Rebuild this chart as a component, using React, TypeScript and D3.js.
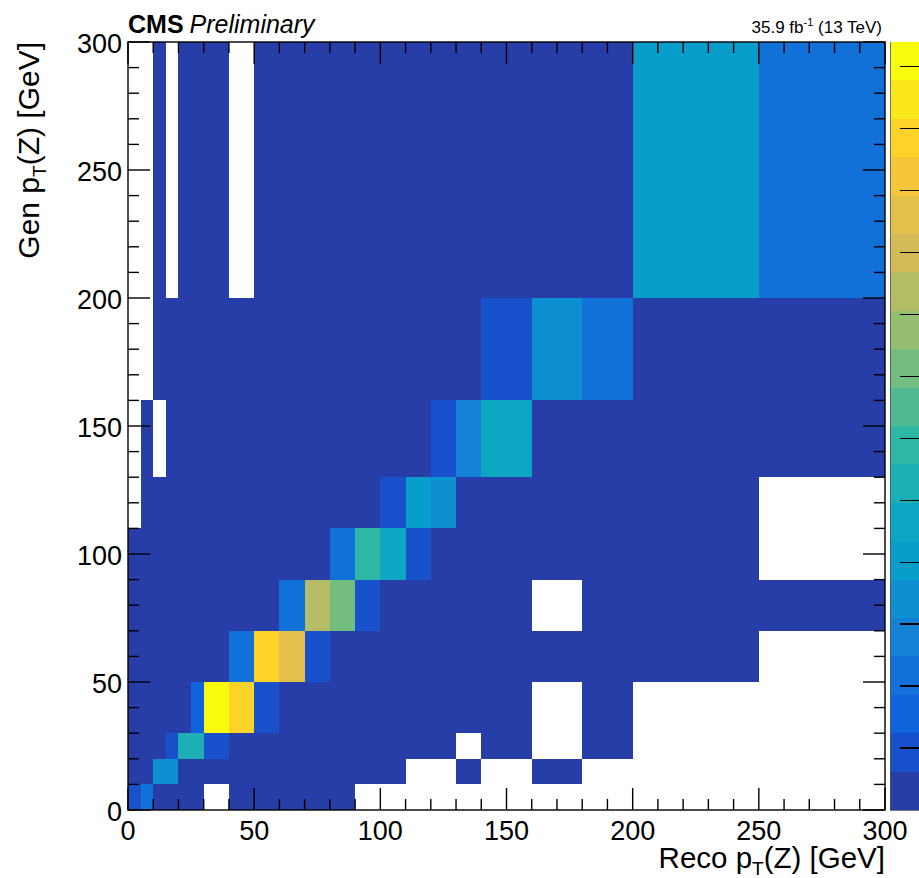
import React from 'react';
import * as d3 from 'd3';

// 2D response matrix (Reco vs Gen pT of the Z), ROOT kBird palette, 20 contours.

const W = 919;
const H = 878;
const PLOT = { left: 128, right: 885, top: 42, bottom: 810 };
const BAR = { left: 890, right: 940 };
const FONT = '"Liberation Sans", Arial, Helvetica, sans-serif';

// bin edges
const recoEdges = [0, 5, 10, 15, 20, 25, 30, 40, 50, 60, 70, 80, 90, 100, 110, 120, 130, 140, 160, 180, 200, 250, 300];
const genEdges = [0, 10, 20, 30, 50, 70, 90, 110, 130, 160, 200, 300];

// one row per gen bin (bottom to top), one entry per reco bin; null = empty bin
const n = null;
const cellValues: (number | null)[][] = [
  [0.047, 0.12, 0.01, 0.01, 0.01, 0.01, n, 0.01, 0.01, 0.01, 0.01, 0.01, n, n, n, n, n, n, n, n, n, n],
  [0.01, 0.01, 0.17, 0.17, 0.01, 0.01, 0.01, 0.01, 0.01, 0.01, 0.01, 0.01, 0.01, 0.01, n, n, 0.01, n, 0.01, n, n, n],
  [0.01, 0.01, 0.01, 0.047, 0.26, 0.26, 0.047, 0.01, 0.01, 0.01, 0.01, 0.01, 0.01, 0.01, 0.01, 0.01, n, 0.01, n, 0.01, n, n],
  [0.01, 0.01, 0.01, 0.01, 0.01, 0.08, 0.6, 0.54, 0.05, 0.01, 0.01, 0.01, 0.01, 0.01, 0.01, 0.01, 0.01, 0.01, n, 0.01, n, n],
  [0.01, 0.01, 0.01, 0.01, 0.01, 0.01, 0.01, 0.1, 0.54, 0.48, 0.047, 0.01, 0.01, 0.01, 0.01, 0.01, 0.01, 0.01, 0.01, 0.01, 0.01, n],
  [0.01, 0.01, 0.01, 0.01, 0.01, 0.01, 0.01, 0.01, 0.01, 0.1, 0.42, 0.36, 0.05, 0.01, 0.01, 0.01, 0.01, 0.01, n, 0.01, 0.01, 0.01],
  [0.01, 0.01, 0.01, 0.01, 0.01, 0.01, 0.01, 0.01, 0.01, 0.01, 0.01, 0.1, 0.29, 0.23, 0.047, 0.01, 0.01, 0.01, 0.01, 0.01, 0.01, n],
  [n, 0.01, 0.01, 0.01, 0.01, 0.01, 0.01, 0.01, 0.01, 0.01, 0.01, 0.01, 0.01, 0.047, 0.2, 0.18, 0.01, 0.01, 0.01, 0.01, 0.01, n],
  [n, 0.01, n, 0.01, 0.01, 0.01, 0.01, 0.01, 0.01, 0.01, 0.01, 0.01, 0.01, 0.01, 0.01, 0.047, 0.14, 0.23, 0.01, 0.01, 0.01, 0.01],
  [n, n, 0.01, 0.01, 0.01, 0.01, 0.01, 0.01, 0.01, 0.01, 0.01, 0.01, 0.01, 0.01, 0.01, 0.01, 0.01, 0.047, 0.17, 0.11, 0.01, 0.01],
  [n, n, 0.01, n, 0.01, 0.01, 0.01, n, 0.01, 0.01, 0.01, 0.01, 0.01, 0.01, 0.01, 0.01, 0.01, 0.01, 0.01, 0.01, 0.2, 0.11],
];

const zMax = 0.62;
const nContours = 20;
const zTickStep = 0.05;

// kBird palette stops
const birdStops = [0, 0.125, 0.25, 0.375, 0.5, 0.625, 0.75, 0.875, 1];
const birdColors = ['#352a87', '#0f5cdd', '#1481d6', '#06a4ca', '#2eb7a4', '#87bf77', '#d1bb59', '#fec832', '#f9fb0e'];

const x = d3.scaleLinear().domain([0, 300]).range([PLOT.left, PLOT.right]);
const y = d3.scaleLinear().domain([0, 300]).range([PLOT.bottom, PLOT.top]);
const z = d3.scaleLinear().domain([0, zMax]).range([PLOT.bottom, PLOT.top]);
const bird = d3.scaleLinear<string>().domain(birdStops).range(birdColors).interpolate(d3.interpolateRgb);

// ROOT picks the palette colour of contour i this way (255 colours)
const contourColor = (i: number) => bird(Math.floor((i + 0.99) * (255 / nContours)) / 254);
const colorFor = (v: number) => contourColor(Math.min(nContours - 1, Math.floor((v / zMax) * nContours)));

const App = () => {
  const cells: { x0: number; x1: number; y0: number; y1: number; v: number }[] = [];
  cellValues.forEach((row, j) => {
    row.forEach((v, i) => {
      if (v == null) return;
      cells.push({ x0: recoEdges[i], x1: recoEdges[i + 1], y0: genEdges[j], y1: genEdges[j + 1], v });
    });
  });

  const majorX = x.ticks(6);
  const minorX = x.ticks(30).filter((t) => !majorX.includes(t));
  const majorY = y.ticks(6);
  const minorY = y.ticks(30).filter((t) => !majorY.includes(t));
  const zTicks = d3.range(zTickStep, zMax, zTickStep);
  const bands = d3.range(nContours);

  const tick = { stroke: '#000', strokeWidth: 1.4 };

  return (
    <div style={{ position: 'absolute', left: 0, top: 0 }}>
      <svg width={W} height={H} style={{ display: 'block', background: '#fff' }} fontFamily={FONT}>
        <g shapeRendering="crispEdges">
          {cells.map((c, k) => (
            <rect
              key={k}
              x={x(c.x0)}
              y={y(c.y1)}
              width={x(c.x1) - x(c.x0)}
              height={y(c.y0) - y(c.y1)}
              fill={colorFor(c.v)}
            />
          ))}
        </g>

        {/* colour bar */}
        <g shapeRendering="crispEdges">
          {bands.map((i) => (
            <rect
              key={i}
              x={BAR.left}
              y={z(((i + 1) * zMax) / nContours)}
              width={BAR.right - BAR.left}
              height={z((i * zMax) / nContours) - z(((i + 1) * zMax) / nContours)}
              fill={contourColor(i)}
            />
          ))}
          <line x1={BAR.left} x2={BAR.left} y1={PLOT.top} y2={PLOT.bottom} stroke="#555" strokeWidth={0.8} />
          <line x1={BAR.left} x2={BAR.right} y1={PLOT.bottom} y2={PLOT.bottom} stroke="#555" strokeWidth={0.8} />
          {zTicks.map((t) => (
            <line key={t} x1={900} x2={W} y1={z(t)} y2={z(t)} {...tick} />
          ))}
        </g>

        {/* axes frame and ticks */}
        <rect
          x={PLOT.left}
          y={PLOT.top}
          width={PLOT.right - PLOT.left}
          height={PLOT.bottom - PLOT.top}
          fill="none"
          stroke="#000"
          strokeWidth={1.4}
        />
        <g>
          {majorX.map((t) => (
            <g key={'mx' + t}>
              <line x1={x(t)} x2={x(t)} y1={PLOT.bottom} y2={PLOT.bottom - 22} {...tick} />
              <line x1={x(t)} x2={x(t)} y1={PLOT.top} y2={PLOT.top + 22} {...tick} />
            </g>
          ))}
          {minorX.map((t) => (
            <g key={'nx' + t}>
              <line x1={x(t)} x2={x(t)} y1={PLOT.bottom} y2={PLOT.bottom - 11} {...tick} />
              <line x1={x(t)} x2={x(t)} y1={PLOT.top} y2={PLOT.top + 11} {...tick} />
            </g>
          ))}
          {majorY.map((t) => (
            <g key={'my' + t}>
              <line x1={PLOT.left} x2={PLOT.left + 22} y1={y(t)} y2={y(t)} {...tick} />
              <line x1={PLOT.right} x2={PLOT.right - 22} y1={y(t)} y2={y(t)} {...tick} />
            </g>
          ))}
          {minorY.map((t) => (
            <g key={'ny' + t}>
              <line x1={PLOT.left} x2={PLOT.left + 11} y1={y(t)} y2={y(t)} {...tick} />
              <line x1={PLOT.right} x2={PLOT.right - 11} y1={y(t)} y2={y(t)} {...tick} />
            </g>
          ))}
        </g>

        {/* tick labels */}
        <g fontSize={27} fill="#000">
          {majorX.map((t) => (
            <text key={'lx' + t} x={x(t)} y={840} textAnchor="middle">
              {t}
            </text>
          ))}
          {majorY.map((t) => (
            <text key={'ly' + t} x={122} y={y(t) + 11} textAnchor="end">
              {t}
            </text>
          ))}
        </g>

        {/* axis titles */}
        <text x={PLOT.right} y={868} textAnchor="end" fontSize={29.5}>
          Reco p<tspan fontSize={19} dy={7}>T</tspan>
          <tspan dy={-7}>(Z) [GeV]</tspan>
        </text>
        <text transform={`translate(39,${PLOT.top}) rotate(-90)`} textAnchor="end" fontSize={30}>
          Gen p<tspan fontSize={19} dy={7}>T</tspan>
          <tspan dy={-7}>(Z) [GeV]</tspan>
        </text>

        {/* header */}
        <text x={PLOT.left} y={33} fontSize={25}>
          <tspan fontWeight="bold">CMS</tspan>
          <tspan fontStyle="italic" dx={6}>Preliminary</tspan>
        </text>
        <text x={882} y={33} textAnchor="end" fontSize={17}>
          35.9 fb<tspan fontSize={11} dy={-7}>-1</tspan>
          <tspan dy={7}> (13 TeV)</tspan>
        </text>
      </svg>
    </div>
  );
};

export default App;
